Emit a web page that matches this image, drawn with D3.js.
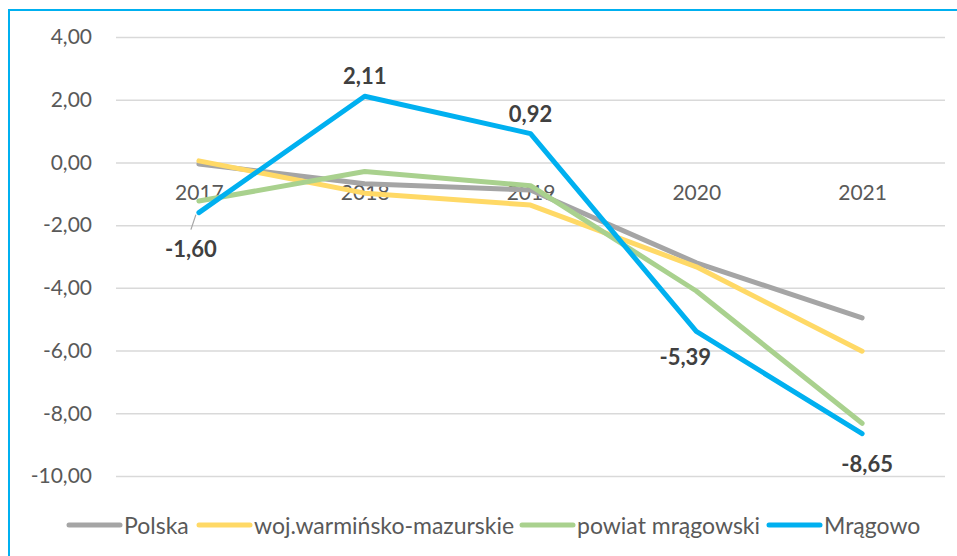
<!DOCTYPE html>
<html><head><meta charset="utf-8">
<script src="https://cdn.jsdelivr.net/npm/d3@7"></script>
<style>body{margin:0;background:#fff}svg{display:block}</style>
</head><body>
<script>
const years = ["2017","2018","2019","2020","2021"];
const seriesNames = ["Polska","woj.warmińsko-mazurskie","powiat mrągowski","Mrągowo"];
const polska = [-0.05,-0.68,-0.88,-3.20,-4.96];
const woj = [0.05,-0.98,-1.36,-3.33,-6.02];
const powiat = [-1.23,-0.29,-0.74,-4.10,-8.32];
const mragowo = [-1.60,2.11,0.92,-5.39,-8.65];
const yTicks = [4,2,0,-2,-4,-6,-8,-10];
const colors = ["#A5A5A5","#FFD966","#A9D18E","#00B0F0"];

const W=957,H=556;
const svg=d3.select("body").append("svg").attr("width",W).attr("height",H);
svg.append("rect").attr("x",9).attr("y",10).attr("width",970).attr("height",570)
  .attr("fill","none").attr("stroke","#00B0F0").attr("stroke-width",2);

const x=d3.scalePoint().domain(years).range([116,945]).padding(0.5);
const y=d3.scaleLinear().domain([-10,4]).range([476,37]);
const font="Lato, 'Open Sans', sans-serif";

const yAxis=svg.append("g").attr("transform","translate(116,0)")
  .call(d3.axisLeft(y).tickValues(yTicks).tickSize(-829).tickPadding(24)
    .tickFormat(d=>d3.format(".2f")(d).replace(".",",").replace("−","-")));
yAxis.select(".domain").remove();
yAxis.selectAll(".tick line").attr("stroke","#D9D9D9").attr("stroke-width",1.5);
yAxis.selectAll(".tick text").attr("fill","#595959").style("font-family",font).style("font-size","21px");

const xAxis=svg.append("g").attr("transform",`translate(0,${y(0)})`)
  .call(d3.axisBottom(x).tickSize(0).tickPadding(23));
xAxis.select(".domain").remove();
xAxis.selectAll(".tick text").attr("fill","#595959").style("font-family",font).style("font-size","21px");

const all=[polska,woj,powiat,mragowo];
const line=d3.line().x((d,i)=>x(years[i])).y(d=>y(d));
all.forEach((s,k)=>{
  svg.append("path").datum(s).attr("d",line).attr("fill","none")
    .attr("stroke",colors[k]).attr("stroke-width",5)
    .attr("stroke-linecap","round").attr("stroke-linejoin","round");
});

// leader line for first label
svg.append("line").attr("x1",x("2017")-8).attr("y1",y(mragowo[0])+17)
  .attr("x2",x("2017")-3).attr("y2",y(mragowo[0])+2).attr("stroke","#A5A5A5").attr("stroke-width",1.2);

const lblOff=[[-8,36],[0,-21],[0,-20],[-11,25],[5,30]];
const fmt=d=>d3.format(".2f")(d).replace(".",",").replace("−","-");
svg.append("g").selectAll("text").data(mragowo).join("text")
  .attr("x",(d,i)=>x(years[i])+lblOff[i][0]).attr("y",(d,i)=>y(d)+lblOff[i][1])
  .attr("text-anchor","middle").attr("dominant-baseline","central")
  .attr("fill","#404040").style("font-family",font).style("font-size","22px").style("font-weight","bold")
  .text(fmt);

// legend
const legX=[67,197,520,767];
const lg=svg.append("g");
seriesNames.forEach((n,k)=>{
  lg.append("line").attr("x1",legX[k]+2).attr("x2",legX[k]+53).attr("y1",525).attr("y2",525)
    .attr("stroke",colors[k]).attr("stroke-width",5).attr("stroke-linecap","round");
  lg.append("text").attr("x",legX[k]+57).attr("y",525).attr("dominant-baseline","central")
    .attr("fill","#595959").style("font-family",font).style("font-size","23px").text(n);
});
</script>
</body></html>
